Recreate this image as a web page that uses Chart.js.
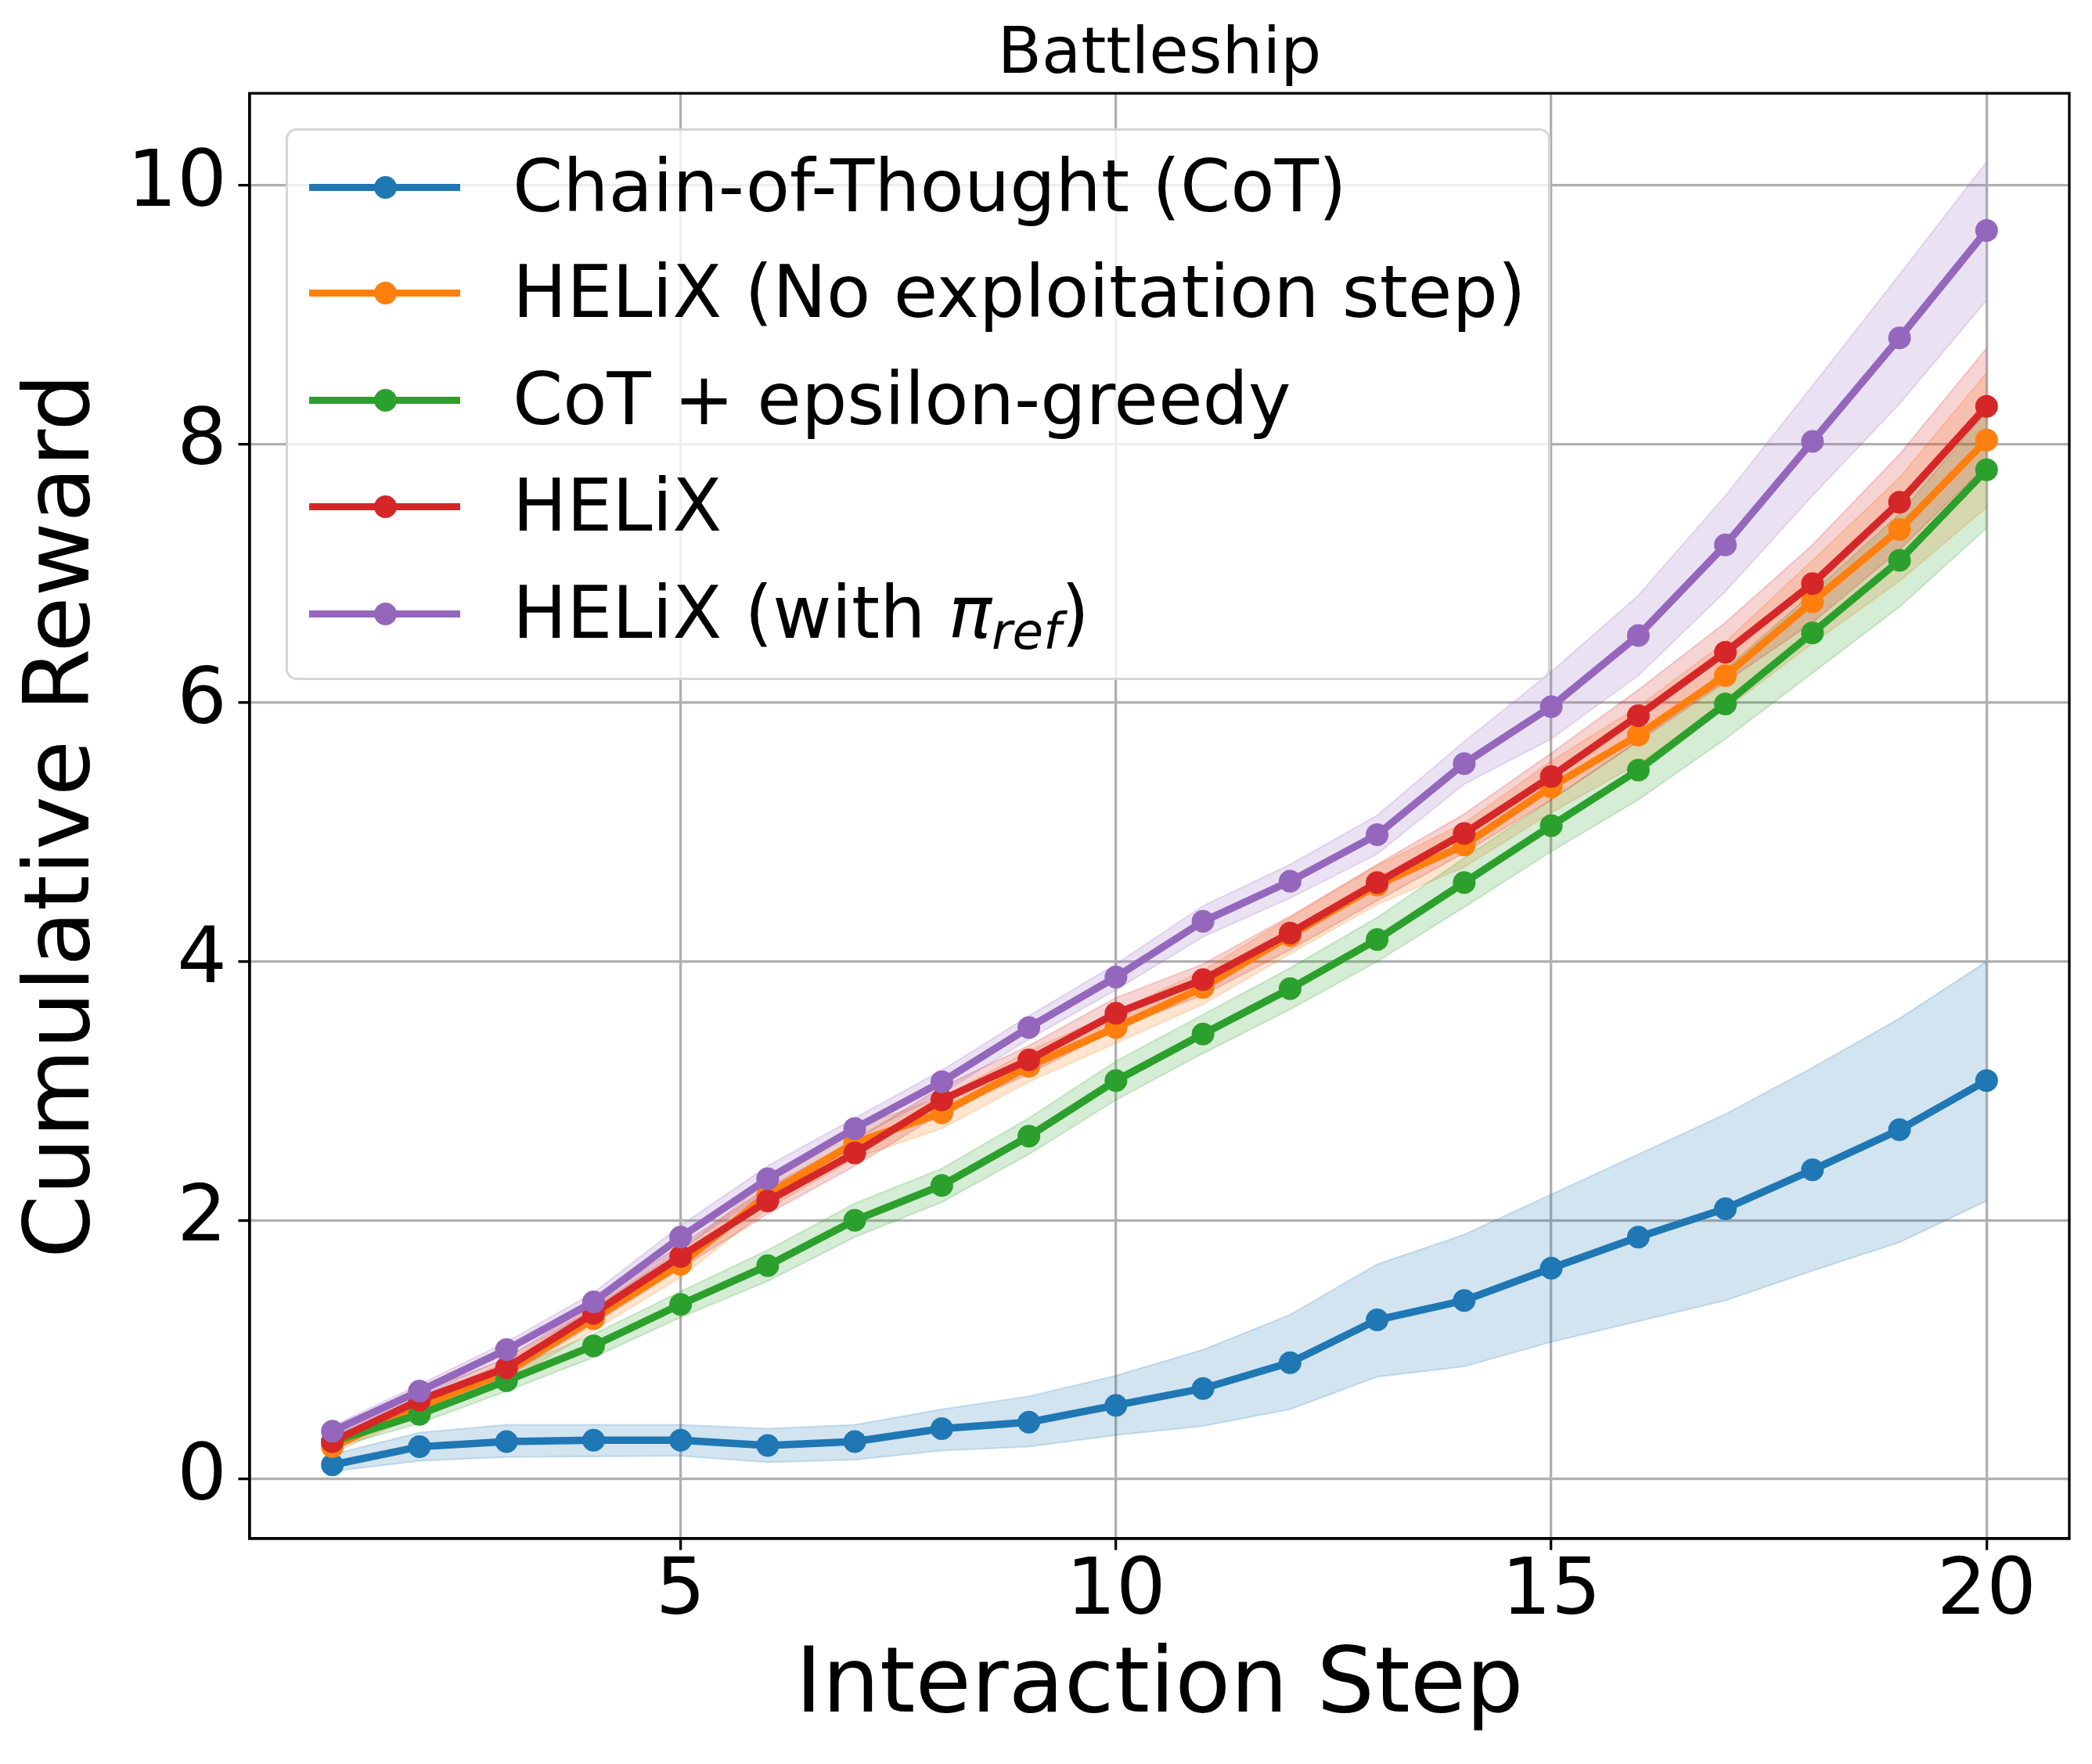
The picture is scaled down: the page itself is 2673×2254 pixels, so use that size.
<!DOCTYPE html>
<html>
<head>
<meta charset="utf-8">
<script src="https://cdn.jsdelivr.net/npm/chart.js@4.4.1/dist/chart.umd.min.js"></script>
<style>
  body { margin: 0; background: #fff; }
  #wrap { position: relative; width: 2673px; height: 2254px; }
  #legend {
    position: absolute; left: 365px; top: 164px; width: 1616px; height: 705px;
    box-sizing: border-box; background: rgba(255,255,255,0.8);
    border: 3px solid rgba(204,204,204,0.8); border-radius: 14px;
    font-family: 'DejaVu Sans'; font-size: 92px; color: #000;
  }
  .row { position: absolute; left: 0; height: 120px; line-height: 120px; white-space: nowrap; }
  .swatch { position: absolute; left: 27px; top: 56px; width: 193px; height: 9px; }
  .dot { position: absolute; left: 83px; top: -10px; width: 29px; height: 29px; border-radius: 50%; }
  .txt { position: absolute; left: 287px; top: 0; }
  .sub { font-style: italic; font-size: 0.7em; position: relative; top: 0.22em; }
</style>
</head>
<body>
<div id="wrap">
  <canvas id="chart" width="2673" height="2254"></canvas>
  <div id="legend"></div>
</div>
<script>
const steps = [1, 2, 3, 4, 5, 6, 7, 8, 9, 10, 11, 12, 13, 14, 15, 16, 17, 18, 19, 20];

const cotMean = [0.11, 0.25, 0.29, 0.30, 0.30, 0.26, 0.29, 0.39, 0.44, 0.57, 0.70, 0.90, 1.23, 1.38, 1.63, 1.87, 2.09, 2.39, 2.70, 3.08];
const cotLow  = [0.06, 0.14, 0.17, 0.175, 0.18, 0.13, 0.15, 0.22, 0.25, 0.34, 0.41, 0.54, 0.79, 0.87, 1.06, 1.22, 1.38, 1.61, 1.83, 2.15];
const cotHigh = [0.19, 0.36, 0.42, 0.42, 0.42, 0.39, 0.42, 0.54, 0.64, 0.80, 1.00, 1.27, 1.66, 1.89, 2.20, 2.51, 2.82, 3.18, 3.56, 4.00];

const noExpMean = [0.25, 0.56, 0.83, 1.24, 1.66, 2.20, 2.60, 2.83, 3.19, 3.49, 3.80, 4.20, 4.59, 4.90, 5.35, 5.75, 6.21, 6.78, 7.34, 8.03];
const noExpLow  = [0.20, 0.50, 0.75, 1.15, 1.56, 2.09, 2.48, 2.71, 3.07, 3.37, 3.67, 4.06, 4.44, 4.73, 5.15, 5.53, 5.95, 6.46, 6.94, 7.51];
const noExpHigh = [0.30, 0.62, 0.91, 1.33, 1.76, 2.31, 2.72, 2.95, 3.31, 3.61, 3.93, 4.34, 4.74, 5.07, 5.55, 5.97, 6.47, 7.10, 7.74, 8.55];

const epsMean = [0.29, 0.50, 0.76, 1.03, 1.35, 1.65, 2.00, 2.27, 2.65, 3.08, 3.44, 3.79, 4.17, 4.61, 5.05, 5.48, 5.99, 6.54, 7.10, 7.80];
const epsLow  = [0.24, 0.43, 0.68, 0.94, 1.25, 1.53, 1.87, 2.14, 2.51, 2.93, 3.29, 3.63, 4.00, 4.42, 4.85, 5.25, 5.72, 6.23, 6.74, 7.35];
const epsHigh = [0.34, 0.57, 0.84, 1.12, 1.45, 1.77, 2.13, 2.40, 2.79, 3.23, 3.59, 3.95, 4.34, 4.80, 5.25, 5.71, 6.26, 6.85, 7.46, 8.25];

const helixMean = [0.29, 0.61, 0.86, 1.28, 1.72, 2.15, 2.52, 2.93, 3.24, 3.60, 3.86, 4.22, 4.61, 4.99, 5.43, 5.90, 6.39, 6.92, 7.55, 8.29];
const helixLow  = [0.24, 0.55, 0.79, 1.20, 1.63, 2.05, 2.42, 2.83, 3.13, 3.48, 3.74, 4.09, 4.47, 4.84, 5.25, 5.70, 6.16, 6.62, 7.18, 7.84];
const helixHigh = [0.34, 0.67, 0.93, 1.36, 1.81, 2.25, 2.62, 3.03, 3.35, 3.72, 3.98, 4.35, 4.75, 5.14, 5.61, 6.10, 6.62, 7.22, 7.92, 8.74];

const refMean = [0.37, 0.68, 1.00, 1.37, 1.87, 2.32, 2.71, 3.07, 3.49, 3.88, 4.31, 4.62, 4.98, 5.53, 5.97, 6.52, 7.22, 8.02, 8.82, 9.65];
const refLow  = [0.33, 0.63, 0.94, 1.30, 1.78, 2.22, 2.63, 2.98, 3.40, 3.78, 4.19, 4.49, 4.83, 5.37, 5.72, 6.21, 6.86, 7.60, 8.31, 9.11];
const refHigh = [0.41, 0.73, 1.06, 1.44, 1.96, 2.42, 2.79, 3.16, 3.58, 3.98, 4.43, 4.75, 5.13, 5.70, 6.24, 6.83, 7.60, 8.45, 9.31, 10.18];

const seriesNames = ['Chain-of-Thought (CoT)', 'HELiX (No exploitation step)', 'CoT + epsilon-greedy', 'HELiX', 'HELiX (with π_ref)'];
const seriesColors = ['#1f77b4', '#ff7f0e', '#2ca02c', '#d62728', '#9467bd'];

Chart.defaults.font.family = 'DejaVu Sans';
Chart.defaults.color = '#000';

function pts(vals) {
  return vals.map((v, i) => ({ x: steps[i], y: v }));
}

function rgba(hex, a) {
  const n = parseInt(hex.slice(1), 16);
  return `rgba(${n >> 16}, ${(n >> 8) & 255}, ${n & 255}, ${a})`;
}

function lineSet(label, vals, color, order) {
  return {
    label, data: pts(vals), borderColor: color, backgroundColor: color,
    borderWidth: 9.5, pointRadius: 14.5, pointHoverRadius: 14.5, pointBorderWidth: 0,
    fill: false, order
  };
}

function bandSets(low, high, color, order) {
  return [
    { data: pts(low), borderColor: rgba(color, 0.2), borderWidth: 2, pointRadius: 0, fill: false, order },
    { data: pts(high), borderColor: rgba(color, 0.2), borderWidth: 2, pointRadius: 0,
      backgroundColor: rgba(color, 0.2), fill: '-1', order }
  ];
}

const datasets = [
  ...bandSets(cotLow, cotHigh, seriesColors[0], 20),
  ...bandSets(noExpLow, noExpHigh, seriesColors[1], 19),
  ...bandSets(epsLow, epsHigh, seriesColors[2], 18),
  ...bandSets(helixLow, helixHigh, seriesColors[3], 17),
  ...bandSets(refLow, refHigh, seriesColors[4], 16),
  lineSet(seriesNames[0], cotMean, seriesColors[0], 5),
  lineSet(seriesNames[1], noExpMean, seriesColors[1], 4),
  lineSet(seriesNames[2], epsMean, seriesColors[2], 3),
  lineSet(seriesNames[3], helixMean, seriesColors[3], 2),
  lineSet(seriesNames[4], refMean, seriesColors[4], 1)
];

// all four spines, like matplotlib
const frame = {
  id: 'frame',
  afterDatasetsDraw(chart) {
    const { ctx, chartArea: a } = chart;
    ctx.save();
    ctx.strokeStyle = '#000';
    ctx.lineWidth = 3.3;
    ctx.strokeRect(a.left, a.top, a.right - a.left, a.bottom - a.top);
    ctx.restore();
  }
};

new Chart(document.getElementById('chart'), {
  type: 'line',
  data: { datasets },
  plugins: [frame],
  options: {
    responsive: false,
    animation: false,
    layout: { padding: { left: 0, right: 29, top: 0, bottom: 0 } },
    plugins: {
      legend: { display: false },
      tooltip: { enabled: false },
      title: {
        display: true, text: 'Battleship', color: '#000', fullSize: false,
        font: { size: 82, weight: 'normal', lineHeight: 1.1 },
        padding: { top: 27, bottom: 2 }
      }
    },
    scales: {
      x: {
        type: 'linear', min: 0.05, max: 20.95,
        ticks: { stepSize: 5, includeBounds: false, font: { size: 100, lineHeight: 1 }, padding: 5, color: '#000' },
        grid: { color: '#b0b0b0', lineWidth: 3.3, tickLength: 14.6, tickColor: '#000', tickWidth: 3.3 },
        border: { color: '#000', width: 3.3 },
        title: { display: true, text: 'Interaction Step', font: { size: 116 }, padding: { top: 0, bottom: 28 } },
        afterFit(s) { s.height = 288; }
      },
      y: {
        min: -0.46, max: 10.71,
        ticks: { stepSize: 2, includeBounds: false, font: { size: 100, lineHeight: 1 }, padding: 14.6, color: '#000' },
        grid: { color: '#b0b0b0', lineWidth: 3.3, tickLength: 14.6, tickColor: '#000', tickWidth: 3.3 },
        border: { color: '#000', width: 3.3 },
        title: { display: true, text: 'Cumulative Reward', font: { size: 116 }, padding: { top: 13, bottom: 0 } },
        afterFit(s) { s.width = 319; }
      }
    }
  }
});

const rowTops = [12, 147, 284, 420, 557];
const legend = document.getElementById('legend');
seriesNames.forEach((name, i) => {
  const row = document.createElement('div');
  row.className = 'row';
  row.style.top = rowTops[i] + 'px';
  row.style.width = '100%';
  const sw = document.createElement('div');
  sw.className = 'swatch';
  sw.style.background = seriesColors[i];
  const dot = document.createElement('div');
  dot.className = 'dot';
  dot.style.background = seriesColors[i];
  sw.appendChild(dot);
  const txt = document.createElement('div');
  txt.className = 'txt';
  if (name.includes('π_ref')) {
    txt.innerHTML = 'HELiX (with <i>π</i><span class="sub">ref</span>)';
  } else {
    txt.textContent = name;
  }
  row.appendChild(sw);
  row.appendChild(txt);
  legend.appendChild(row);
});
</script>
</body>
</html>
